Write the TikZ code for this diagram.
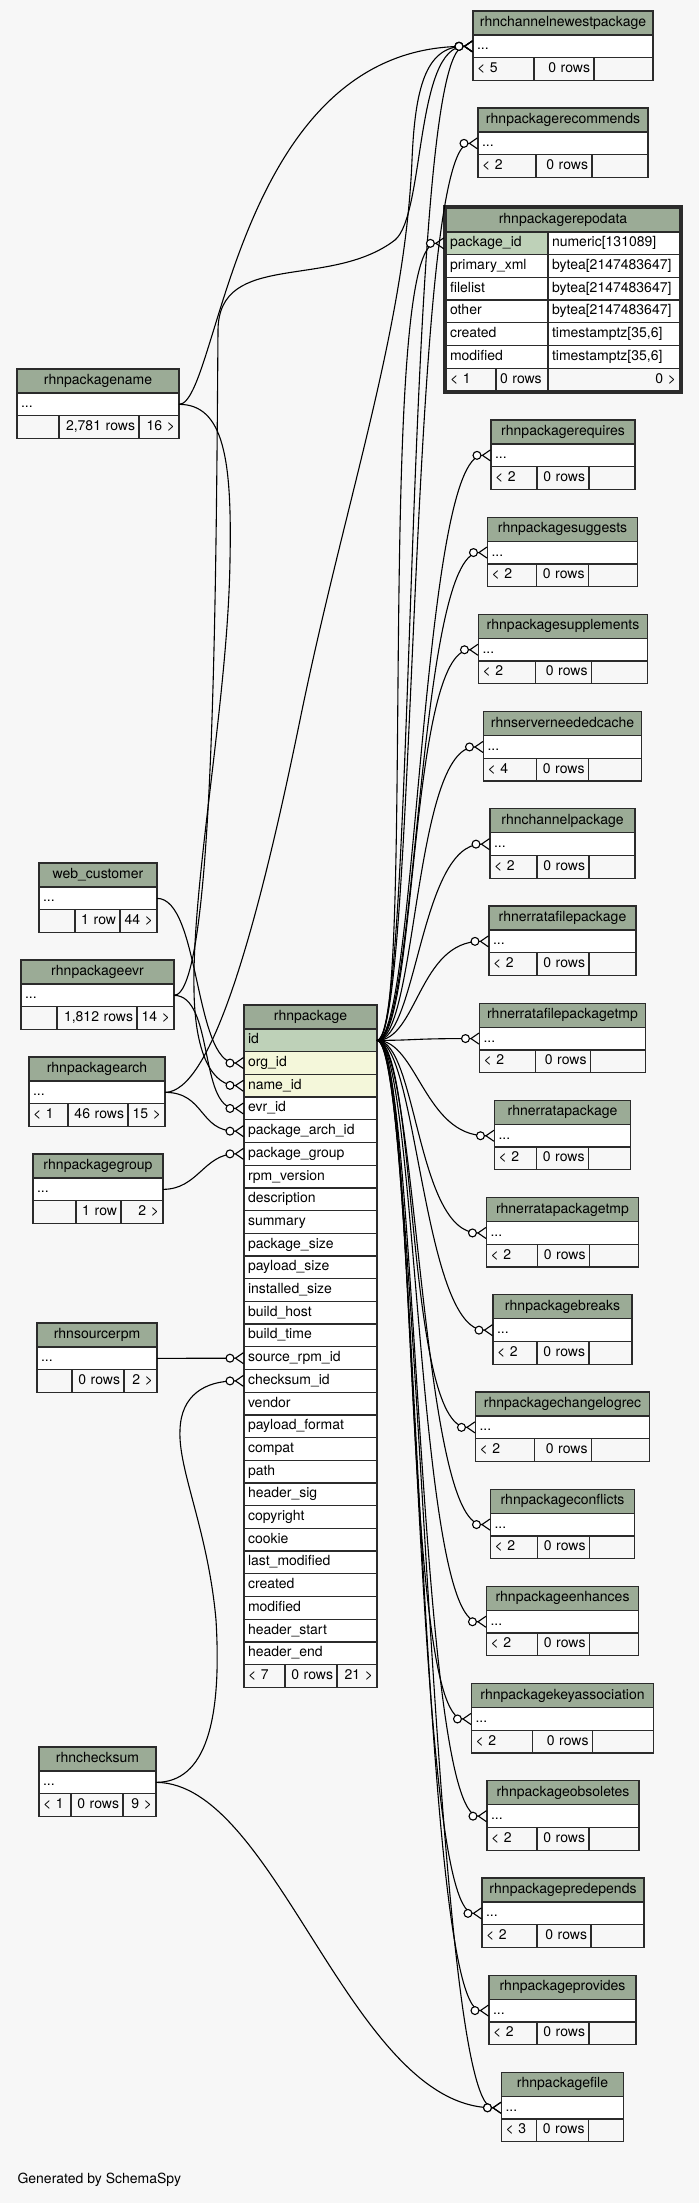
\documentclass[tikz,border=0pt]{standalone}
\usepackage{fontspec}
\setmainfont{TeX Gyre Heros}
\usepackage{tikz}
\usetikzlibrary{positioning,arrows.meta,fit}
\definecolor{cBg}{HTML}{F7F7F7}
\definecolor{cHead}{HTML}{9BAB96}
\definecolor{cKey}{HTML}{BED1B8}
\definecolor{cIdx}{HTML}{F4F7DA}
\definecolor{cLine}{HTML}{2B2B2B}
\newcommand{\fsz}{\fontsize{14}{16}\selectfont}
% table: name, title, (x,top), width, left cell, mid cell, footer texts
\newcommand{\dbtable}[9]{%
  \pgfmathsetmacro{\cwR}{#4-8}%
  \pgfmathsetmacro{\cwA}{#5-8}%
  \pgfmathsetmacro{\cwB}{#6-8}%
  \pgfmathsetmacro{\cwC}{#4-#5-#6-8}%
  \node[hd, minimum width=#4] (#1) at (#3) {#2};
  \node[rw, text width=\cwR pt, below=0pt of #1] (#1-r) {...};
  \node[ft, align=left, text width=\cwA pt, anchor=north west] (#1-f1) at (#1-r.south west) {#7};
  \node[ft, text width=\cwB pt, right=0pt of #1-f1] (#1-f2) {#8};
  \node[ft, text width=\cwC pt, right=0pt of #1-f2] (#1-f3) {#9};
}
\newcommand{\fan}[1]{\draw[fk] (p-id.east) .. controls +(40,0) and +(-70,0) .. (#1);}
\tikzset{
  hd/.style={draw=cLine, fill=cHead, line width=1.3pt, outer sep=0pt, inner sep=0pt,
             anchor=north, minimum height=24pt, text height=10pt, text depth=3pt, font=\fsz},
  rw/.style={draw=cLine, fill=white, line width=1.3pt, outer sep=0pt, inner xsep=4pt,
             inner ysep=0pt, minimum height=22.7pt, text height=10pt, text depth=3pt,
             align=left, font=\fsz},
  col/.style={rw, text width=125pt},
  ft/.style={rw, fill=cBg, align=right},
  fk/.style={line width=1.1pt, -{Circle[open, fill=white, length=9pt, width=9pt, sep=0pt]
             Straight Barb[reversed, length=8pt, width=11pt, sep=0pt]}}
}
\begin{document}
\begin{tikzpicture}[x=1pt, y=-1pt]
\useasboundingbox (0,0) rectangle (699,2203);
\fill[cBg] (0,0) rectangle (699,2203);
% rhnpackage
\node[hd, minimum width=133] (p) at (310.5,1005) {rhnpackage};
\node[col, fill=cKey, below=0pt of p] (p-id) {id};
\node[col, fill=cIdx, below=0pt of p-id] (p-org) {org\_id};
\node[col, fill=cIdx, below=0pt of p-org] (p-name) {name\_id};
\node[col, below=0pt of p-name] (p-evr) {evr\_id};
\node[col, below=0pt of p-evr] (p-arch) {package\_arch\_id};
\node[col, below=0pt of p-arch] (p-grp) {package\_group};
\node[col, below=0pt of p-grp] (p-rpmv) {rpm\_version};
\node[col, below=0pt of p-rpmv] (p-desc) {description};
\node[col, below=0pt of p-desc] (p-sum) {summary};
\node[col, below=0pt of p-sum] (p-psize) {package\_size};
\node[col, below=0pt of p-psize] (p-plsize) {payload\_size};
\node[col, below=0pt of p-plsize] (p-isize) {installed\_size};
\node[col, below=0pt of p-isize] (p-bhost) {build\_host};
\node[col, below=0pt of p-bhost] (p-btime) {build\_time};
\node[col, below=0pt of p-btime] (p-srpm) {source\_rpm\_id};
\node[col, below=0pt of p-srpm] (p-chk) {checksum\_id};
\node[col, below=0pt of p-chk] (p-vend) {vendor};
\node[col, below=0pt of p-vend] (p-plfmt) {payload\_format};
\node[col, below=0pt of p-plfmt] (p-compat) {compat};
\node[col, below=0pt of p-compat] (p-path) {path};
\node[col, below=0pt of p-path] (p-hsig) {header\_sig};
\node[col, below=0pt of p-hsig] (p-copy) {copyright};
\node[col, below=0pt of p-copy] (p-cookie) {cookie};
\node[col, below=0pt of p-cookie] (p-lmod) {last\_modified};
\node[col, below=0pt of p-lmod] (p-created) {created};
\node[col, below=0pt of p-created] (p-mod) {modified};
\node[col, below=0pt of p-mod] (p-hstart) {header\_start};
\node[col, below=0pt of p-hstart] (p-hend) {header\_end};
\node[ft, align=left, text width=33pt, anchor=north west] (p-f1) at (p-hend.south west) {< 7};
\node[ft, text width=44pt, right=0pt of p-f1] (p-f2) {0 rows};
\node[ft, text width=32pt, right=0pt of p-f2] (p-f3) {21 >};
% parents on the left
\dbtable{pkn}{rhnpackagename}{98,369}{162}{42}{80}{}{2,781 rows}{16 >}
\dbtable{web}{web\_customer}{98,863}{118}{36}{45}{}{1 row}{44 >}
\dbtable{evr}{rhnpackageevr}{97.5,960}{153}{36}{80}{}{1,812 rows}{14 >}
\dbtable{arch}{rhnpackagearch}{97,1057}{136}{39}{60}{< 1}{46 rows}{15 >}
\dbtable{grp}{rhnpackagegroup}{98,1154}{130}{43}{45}{}{1 row}{2 >}
\dbtable{srpm}{rhnsourcerpm}{97,1323}{120}{35}{52}{}{0 rows}{2 >}
\dbtable{chk}{rhnchecksum}{97.5,1747}{117}{32}{52}{< 1}{0 rows}{9 >}
% children on the right
\dbtable{cnp}{rhnchannelnewestpackage}{563,11}{180}{61}{60}{< 5}{0 rows}{}
\dbtable{rec}{rhnpackagerecommends}{563,108}{170}{58}{56}{< 2}{0 rows}{}
\node[hd, minimum width=234] (rd) at (563,208) {rhnpackagerepodata};
\node[rw, fill=cKey, text width=94pt, anchor=north west] (rd-pk) at (rd.south west) {package\_id};
\node[rw, text width=124pt, right=0pt of rd-pk] (rd-pkt) {numeric[131089]};
\node[rw, text width=94pt, below=0pt of rd-pk] (rd-xml) {primary\_xml};
\node[rw, text width=124pt, right=0pt of rd-xml] (rd-xmlt) {bytea[2147483647]};
\node[rw, text width=94pt, below=0pt of rd-xml] (rd-fl) {filelist};
\node[rw, text width=124pt, right=0pt of rd-fl] (rd-flt) {bytea[2147483647]};
\node[rw, text width=94pt, below=0pt of rd-fl] (rd-oth) {other};
\node[rw, text width=124pt, right=0pt of rd-oth] (rd-otht) {bytea[2147483647]};
\node[rw, text width=94pt, below=0pt of rd-oth] (rd-cr) {created};
\node[rw, text width=124pt, right=0pt of rd-cr] (rd-crt) {timestamptz[35,6]};
\node[rw, text width=94pt, below=0pt of rd-cr] (rd-mod) {modified};
\node[rw, text width=124pt, right=0pt of rd-mod] (rd-modt) {timestamptz[35,6]};
\node[ft, align=left, text width=42pt, anchor=north west] (rd-f1) at (rd-mod.south west) {< 1};
\node[ft, align=left, text width=44pt, right=0pt of rd-f1] (rd-f2) {0 rows};
\node[ft, text width=124pt, right=0pt of rd-f2] (rd-f3) {0 >};
\node[draw=cLine, line width=2.6pt, inner sep=1.6pt, outer sep=0pt, fit=(rd)(rd-f3)] (rdbox) {};
\dbtable{req}{rhnpackagerequires}{563,420}{144}{46}{52}{< 2}{0 rows}{}
\dbtable{sug}{rhnpackagesuggests}{562.5,517.2}{150}{49}{52}{< 2}{0 rows}{}
\dbtable{sup}{rhnpackagesupplements}{563,614.4}{169}{57}{56}{< 2}{0 rows}{}
\dbtable{snc}{rhnserverneededcache}{562.5,711.6}{158}{53}{52}{< 4}{0 rows}{}
\dbtable{chp}{rhnchannelpackage}{562.5,808.8}{145}{47}{52}{< 2}{0 rows}{}
\dbtable{efp}{rhnerratafilepackage}{562.5,906}{147}{48}{52}{< 2}{0 rows}{}
\dbtable{eft}{rhnerratafilepackagetmp}{562.5,1003.2}{166}{56}{55}{< 2}{0 rows}{}
\dbtable{ep}{rhnerratapackage}{562.5,1100.4}{136}{42}{52}{< 2}{0 rows}{}
\dbtable{ept}{rhnerratapackagetmp}{562.5,1197.6}{152}{51}{52}{< 2}{0 rows}{}
\dbtable{brk}{rhnpackagebreaks}{562.5,1294.8}{139}{44}{52}{< 2}{0 rows}{}
\dbtable{clr}{rhnpackagechangelogrec}{562.5,1392}{174}{59}{57}{< 2}{0 rows}{}
\dbtable{con}{rhnpackageconflicts}{562.5,1489.2}{144}{47}{52}{< 2}{0 rows}{}
\dbtable{enh}{rhnpackageenhances}{562.5,1586.4}{152}{51}{52}{< 2}{0 rows}{}
\dbtable{key}{rhnpackagekeyassociation}{562.5,1683.6}{182}{61}{60}{< 2}{0 rows}{}
\dbtable{obs}{rhnpackageobsoletes}{563,1780.8}{152}{50}{52}{< 2}{0 rows}{}
\dbtable{pre}{rhnpackagepredepends}{563,1878}{162}{55}{54}{< 2}{0 rows}{}
\dbtable{pro}{rhnpackageprovides}{562.5,1975.2}{147}{48}{52}{< 2}{0 rows}{}
\dbtable{fil}{rhnpackagefile}{562.5,2072.4}{122}{35}{52}{< 3}{0 rows}{}
\node[anchor=west, font=\fsz] (gen) at (14,2180) {Generated by SchemaSpy};
% foreign keys into rhnpackage
\draw[fk] (web-r.east) .. controls +(43,0) and +(-50,0) .. (p-org.west);
\draw[fk] (pkn-r.east) .. controls +(45,0) and (232,460) .. (230,560) .. controls (228,700) and (192,880) .. (194,990) .. controls (195,1060) and (215,1085) .. (p-name.west);
\draw[fk] (evr-r.east) .. controls +(40,0) and +(-45,0) .. (p-evr.west);
\draw[fk] (arch-r.east) .. controls +(40,0) and +(-45,0) .. (p-arch.west);
\draw[fk] (grp-r.east) .. controls +(35,0) and +(-40,0) .. (p-grp.west);
\draw[fk] (srpm-r.east) -- (p-srpm.west);
\draw[fk] (chk-r.east) .. controls +(50,0) and (222,1720) .. (216,1620) .. controls (208,1530) and (178,1470) .. (180,1430) .. controls (181,1395) and (205,1381) .. (p-chk.west);
\draw[fk] (chk-r.east) .. controls +(120,0) and +(-150,0) .. (fil-r.west);
% into rhnchannelnewestpackage
\draw[fk] (pkn-r.east) .. controls +(40,0) and +(-240,0) .. (cnp-r.west);
\draw[fk] (evr-r.east) .. controls +(40,0) and (216,600) .. (218,330) .. controls (219,250) and (330,290) .. (395,240) .. controls (425,215) and (415,46) .. (cnp-r.west);
\draw[fk] (arch-r.east) .. controls +(45,0) and (255,940) .. (300,720) .. controls (345,500) and (405,330) .. (412,160) .. controls (415,90) and (425,46) .. (cnp-r.west);
% rhnpackage.id fan
\fan{cnp-r.west}\fan{rec-r.west}\fan{rdbox.west |- rd-pk}\fan{req-r.west}\fan{sug-r.west}
\fan{sup-r.west}\fan{snc-r.west}\fan{chp-r.west}\fan{efp-r.west}\fan{eft-r.west}
\fan{ep-r.west}\fan{ept-r.west}\fan{brk-r.west}\fan{clr-r.west}\fan{con-r.west}
\fan{enh-r.west}\fan{key-r.west}\fan{obs-r.west}\fan{pre-r.west}\fan{pro-r.west}\fan{fil-r.west}
\end{tikzpicture}
\end{document}
